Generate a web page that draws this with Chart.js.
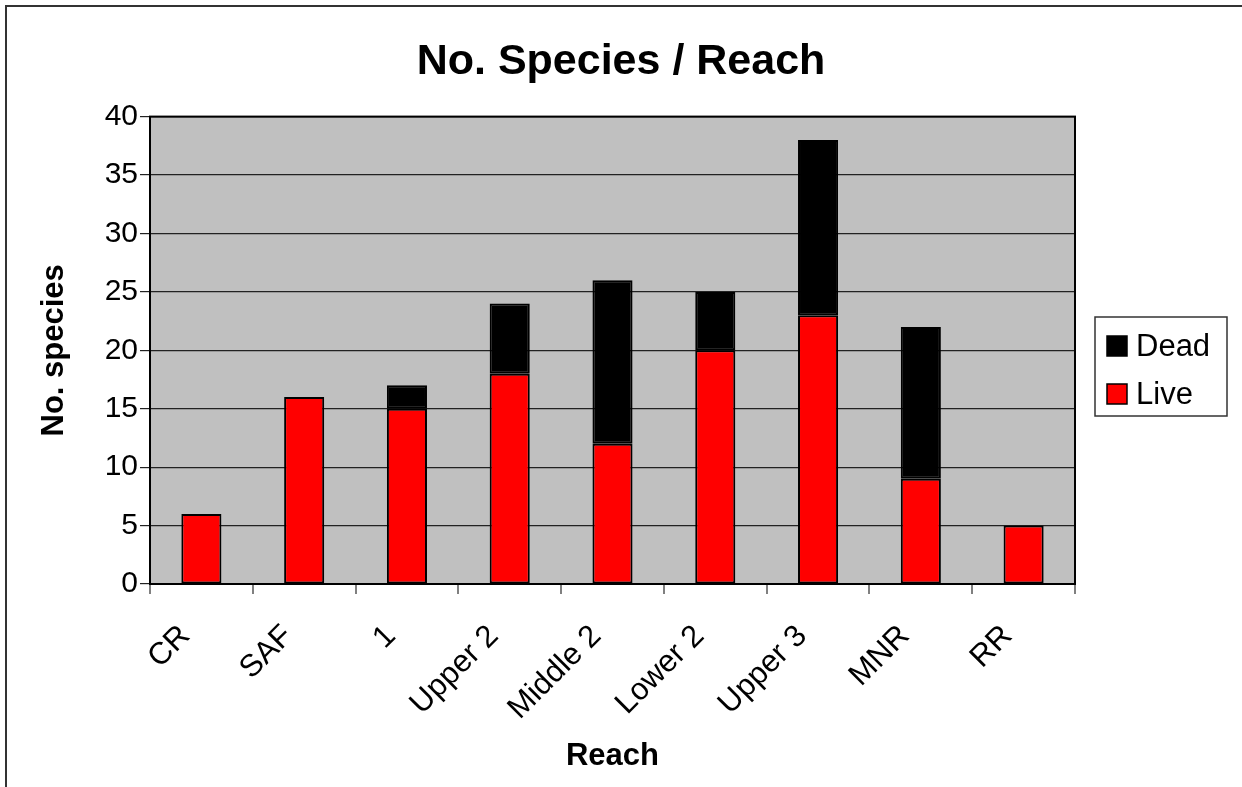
<!DOCTYPE html>
<html>
<head>
<meta charset="utf-8">
<script src="https://cdn.jsdelivr.net/npm/chart.js@4"></script>
<style>
  html, body { margin: 0; padding: 0; background: #fff; overflow: hidden; }
  #wrap { position: relative; width: 1242px; height: 787px; }
  #frame { position: absolute; left: 5px; top: 5px; width: 1300px; height: 900px;
           border-left: 2px solid #333; border-top: 2px solid #333; pointer-events: none; }
  canvas { position: absolute; left: 0; top: 0; }
</style>
</head>
<body>
<div id="wrap">
  <canvas id="c" width="1242" height="787"></canvas>
  <div id="frame"></div>
</div>
<script>
const categories = ["CR", "SAF", "1", "Upper 2", "Middle 2", "Lower 2", "Upper 3", "MNR", "RR"];
const liveValues = [6, 16, 15, 18, 12, 20, 23, 9, 5];
const deadValues = [0, 0, 2, 6, 14, 5, 15, 13, 0];
const yTicks = [0, 5, 10, 15, 20, 25, 30, 35, 40];

const FONT = "'Liberation Sans', Arial, sans-serif";

const plotBg = {
  id: 'plotBg',
  beforeDraw(chart) {
    const a = chart.chartArea, ctx = chart.ctx;
    ctx.save();
    ctx.fillStyle = '#C0C0C0';
    ctx.fillRect(a.left, a.top, a.right - a.left, a.bottom - a.top);
    ctx.restore();
  },
  beforeDatasetsDraw(chart) {
    const a = chart.chartArea, ctx = chart.ctx;
    ctx.save();
    ctx.strokeStyle = '#000';
    ctx.lineWidth = 2;
    ctx.strokeRect(a.left, a.top, a.right - a.left, a.bottom - a.top);
    ctx.restore();
  }
};

const boxLegend = {
  id: 'boxLegend',
  afterDraw(chart) {
    const ctx = chart.ctx;
    const ds = chart.data.datasets.slice().reverse();
    const x0 = 1095, y0 = 317, w = 132, h = 99;
    ctx.save();
    ctx.fillStyle = '#fff';
    ctx.fillRect(x0, y0, w, h);
    ctx.strokeStyle = '#333';
    ctx.lineWidth = 1.5;
    ctx.strokeRect(x0, y0, w, h);
    ctx.font = '31px ' + FONT;
    ctx.textBaseline = 'middle';
    ctx.textAlign = 'left';
    ds.forEach((d, i) => {
      const cy = 346 + i * 48;
      ctx.fillStyle = d.backgroundColor;
      ctx.fillRect(1107, cy - 10, 20, 20);
      ctx.strokeStyle = '#000';
      ctx.lineWidth = 1.5;
      ctx.strokeRect(1107, cy - 10, 20, 20);
      ctx.fillStyle = '#000';
      ctx.fillText(d.label, 1136, cy + 1);
    });
    ctx.restore();
  }
};

new Chart(document.getElementById('c'), {
  type: 'bar',
  data: {
    labels: categories,
    datasets: [
      { label: 'Live', data: liveValues, backgroundColor: '#FF0000', borderColor: '#000', borderWidth: 2,
        borderSkipped: false, barPercentage: 0.39, categoryPercentage: 1.0 },
      { label: 'Dead', data: deadValues, backgroundColor: '#000000', borderColor: '#000', borderWidth: 2,
        borderSkipped: false, barPercentage: 0.39, categoryPercentage: 1.0 }
    ]
  },
  options: {
    responsive: false,
    animation: false,
    devicePixelRatio: 1,
    layout: { padding: 0 },
    plugins: {
      legend: { display: false },
      tooltip: { enabled: false },
      title: {
        display: true,
        text: 'No. Species / Reach',
        color: '#000',
        font: { family: FONT, size: 43, weight: 'bold' },
        padding: { top: 36, bottom: 29 }
      }
    },
    scales: {
      x: {
        stacked: true,
        grid: { display: true, drawOnChartArea: false, drawTicks: true, tickLength: 10, color: '#808080', lineWidth: 2, offset: true },
        border: { display: false },
        ticks: { color: '#000', font: { family: FONT, size: 31 }, minRotation: 45, maxRotation: 45, padding: 24, labelOffset: -16, autoSkip: false },
        title: { display: true, text: 'Reach', color: '#000', font: { family: FONT, size: 31, weight: 'bold' }, padding: { top: 0, bottom: 12 } },
        afterFit(scale) { scale.height = 203; }
      },
      y: {
        stacked: true,
        min: 0, max: 40,
        afterBuildTicks(scale) { scale.ticks = yTicks.map(v => ({ value: v })); },
        grid: { color: '#222', lineWidth: 1.2, drawTicks: true, tickLength: 10 },
        border: { display: false },
        ticks: { color: '#000', font: { family: FONT, size: 30 }, padding: 2 },
        title: { display: true, text: 'No. species', color: '#000', font: { family: FONT, size: 31, weight: 'bold' }, padding: { top: 36, bottom: 0 } },
        afterFit(scale) { scale.width = 150; }
      },
      legendSpace: {
        type: 'linear',
        position: 'right',
        display: true,
        grid: { display: false, drawTicks: false },
        border: { display: false },
        ticks: { display: false },
        afterFit(scale) { scale.width = 167; }
      }
    }
  },
  plugins: [plotBg, boxLegend]
});
</script>
</body>
</html>
